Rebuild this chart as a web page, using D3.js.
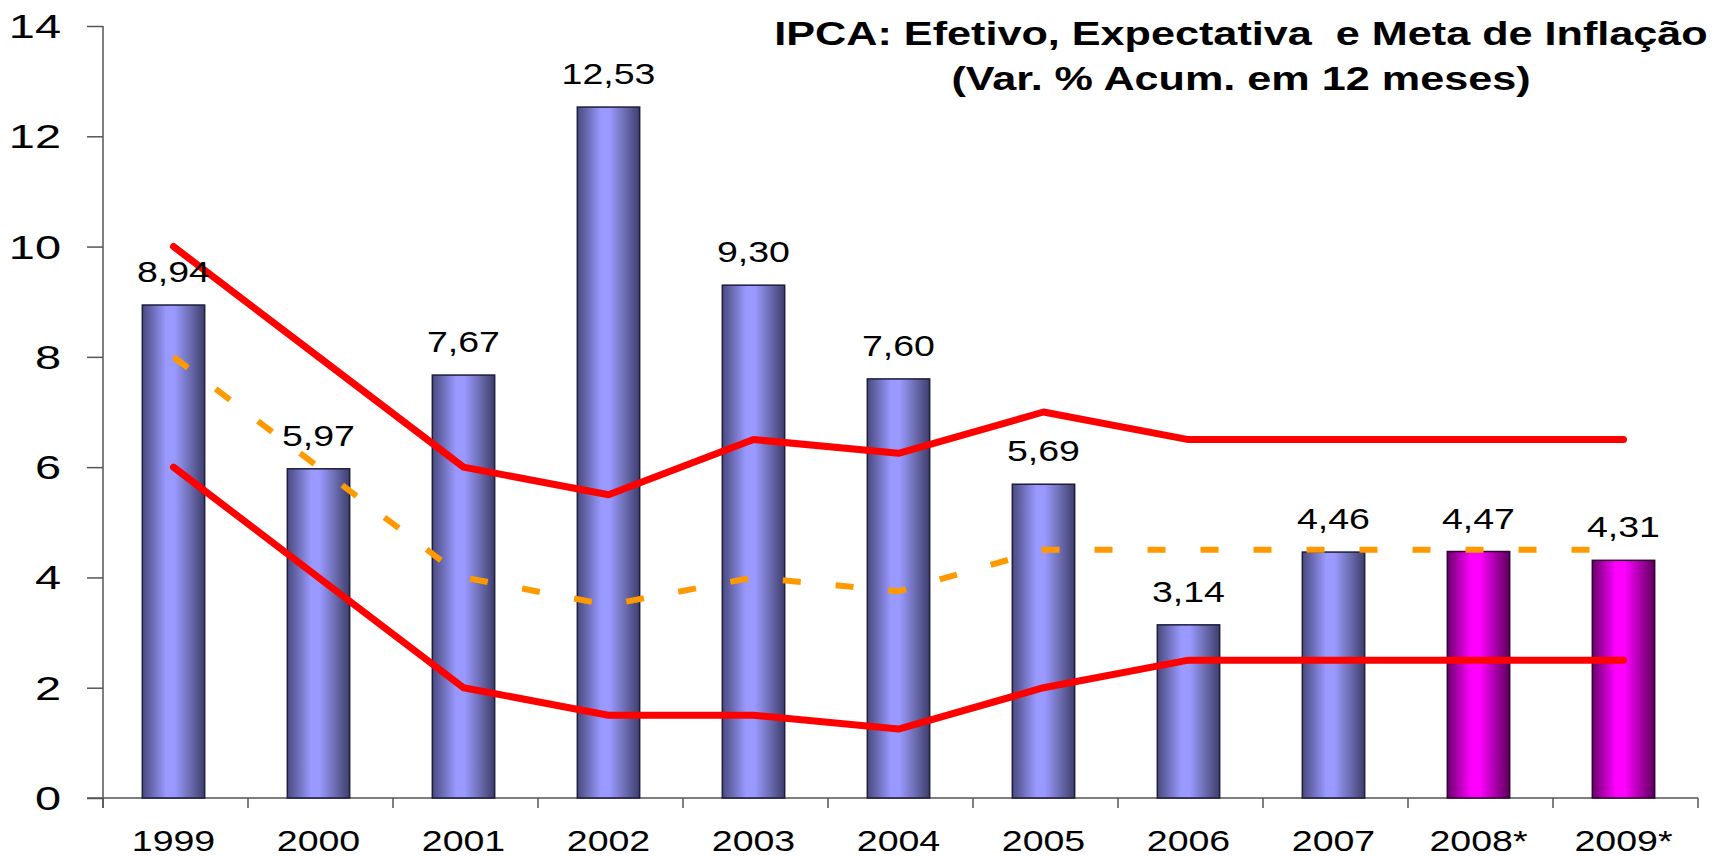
<!DOCTYPE html>
<html>
<head>
<meta charset="utf-8">
<script src="https://cdn.jsdelivr.net/npm/d3@7"></script>
<style>
  html, body { margin: 0; padding: 0; background: #ffffff; }
  svg { display: block; }
  text { font-family: "Liberation Sans", Arial, sans-serif; fill: #000; white-space: pre; }
</style>
</head>
<body>
<svg id="chart" width="1715" height="856"></svg>
<script>
// ---- data ----
const years = ["1999","2000","2001","2002","2003","2004","2005","2006","2007","2008*","2009*"];
const ipca = [8.94, 5.97, 7.67, 12.53, 9.30, 7.60, 5.69, 3.14, 4.46, 4.47, 4.31];
const projected = [false,false,false,false,false,false,false,false,false,true,true];
const upperLimit = [10, 8, 6, 5.5, 6.5, 6.25, 7, 6.5, 6.5, 6.5, 6.5];
const lowerLimit = [6, 4, 2, 1.5, 1.5, 1.25, 2, 2.5, 2.5, 2.5, 2.5];
const target = [8, 6, 4, 3.5, 4, 3.75, 4.5, 4.5, 4.5, 4.5, 4.5];
const yTicks = [0, 2, 4, 6, 8, 10, 12, 14];
const titleLines = ["IPCA: Efetivo, Expectativa  e Meta de Inflação", "(Var. % Acum. em 12 meses)"];

const SX = 1.25; // horizontal text stretch seen in the reference
const svg = d3.select("#chart");

const x = d3.scaleBand().domain(years).range([103, 1698]).padding(0);
const y = d3.scaleLinear().domain([0, 14]).range([798, 26]);
const barW = x.bandwidth() * 0.43;
const cx = d => x(d) + x.bandwidth() / 2 - 2;

// gradients
const defs = svg.append("defs");
function grad(id, stops) {
  const g = defs.append("linearGradient").attr("id", id)
    .attr("x1", "0%").attr("x2", "100%").attr("y1", "0%").attr("y2", "0%");
  stops.forEach(s => g.append("stop").attr("offset", s[0]).attr("stop-color", s[1]));
}
grad("gBlue", [["0%","#4a4a80"],["12%","#6262a6"],["38%","#9999ff"],["52%","#9999ff"],["75%","#6f6fb6"],["100%","#3e3e6c"]]);
grad("gMag", [["0%","#6a006a"],["12%","#9a009a"],["38%","#ff00ff"],["52%","#ff00ff"],["75%","#b000b0"],["100%","#5a005a"]]);

// axes
const yAxis = d3.axisLeft(y).tickValues(yTicks).tickSize(16).tickFormat("");
const gy = svg.append("g").attr("transform", "translate(103,0)").call(yAxis);
gy.select(".domain").attr("stroke", "#555").attr("stroke-width", 1.5).attr("d", "M0,26V808");
gy.selectAll(".tick line").attr("stroke", "#555").attr("stroke-width", 1.5);

const xAxis = d3.axisBottom(x).tickSize(0).tickFormat("");
const gx = svg.append("g").attr("transform", "translate(0,798)").call(xAxis);
gx.select(".domain").attr("stroke", "#555").attr("stroke-width", 1.5).attr("d", "M87,0H1698");
gx.selectAll(".tick").remove();
const boundaries = years.map(d => x(d)).concat([x.range()[1]]);
gx.selectAll("line.b").data(boundaries).enter().append("line")
  .attr("x1", d => d).attr("x2", d => d).attr("y1", 0).attr("y2", 10)
  .attr("stroke", "#555").attr("stroke-width", 1.5);

// y labels
svg.selectAll("text.ylab").data(yTicks).enter().append("text")
  .attr("class", "ylab")
  .attr("transform", d => `translate(61,${y(d) + 12}) scale(1.38,1)`)
  .attr("text-anchor", "end")
  .style("font-size", "34px")
  .text(d => d);

// x labels
svg.selectAll("text.xlab").data(years).enter().append("text")
  .attr("class", "xlab")
  .attr("transform", d => `translate(${cx(d)},851) scale(${SX},1)`)
  .attr("text-anchor", "middle")
  .style("font-size", "30px")
  .text(d => d);

// bars
const bars = svg.selectAll("g.bar").data(years).enter().append("g").attr("class", "bar");
bars.append("rect")
  .attr("x", d => cx(d) - barW / 2)
  .attr("y", (d, i) => y(ipca[i]))
  .attr("width", barW)
  .attr("height", (d, i) => y(0) - y(ipca[i]))
  .attr("fill", (d, i) => projected[i] ? "url(#gMag)" : "url(#gBlue)")
  .attr("stroke", (d, i) => projected[i] ? "#300030" : "#1c1c3c")
  .attr("stroke-width", 1.5);

// lines
const line = d3.line().x((d, i) => cx(years[i])).y(d => y(d));
svg.append("path").datum(target).attr("d", line)
  .attr("fill", "none").attr("stroke", "#ff9900").attr("stroke-width", 6)
  .attr("stroke-dasharray", "18,35");
[upperLimit, lowerLimit].forEach(arr => {
  svg.append("path").datum(arr).attr("d", line)
    .attr("fill", "none").attr("stroke", "#ff0000").attr("stroke-width", 7)
    .attr("stroke-linecap", "round").attr("stroke-linejoin", "round");
});

// data labels
svg.selectAll("text.dlab").data(years).enter().append("text")
  .attr("class", "dlab")
  .attr("transform", (d, i) => `translate(${cx(d)},${y(ipca[i]) - 23}) scale(${SX},1)`)
  .attr("text-anchor", "middle")
  .style("font-size", "30px")
  .text((d, i) => d3.format(".2f")(ipca[i]).replace(".", ","));

// title
svg.selectAll("text.title").data(titleLines).enter().append("text")
  .attr("class", "title")
  .attr("transform", (d, i) => `translate(1241,${i === 0 ? 45 : 90}) scale(1.27,1)`)
  .attr("text-anchor", "middle")
  .style("font-size", "34px").style("font-weight", "bold")
  .text(d => d);
</script>
</body>
</html>
